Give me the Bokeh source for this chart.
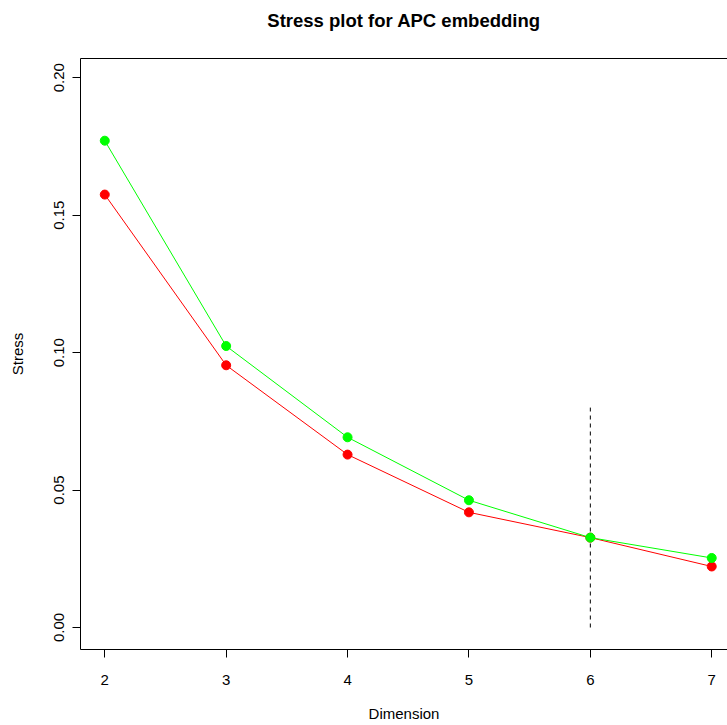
from bokeh.plotting import figure
from bokeh.models import LinearAxis, FixedTicker, Range1d
from bokeh.embed import file_html
from bokeh.resources import INLINE

# ---- data ----
dims = [2, 3, 4, 5, 6, 7]
stress_red = [0.1575, 0.0954, 0.0629, 0.0419, 0.0327, 0.0222]
stress_green = [0.1771, 0.1024, 0.0692, 0.0463, 0.0327, 0.0253]
cutoff_dim = 6
cutoff_top = 0.08
x_ticks = [2, 3, 4, 5, 6, 7]
y_ticks = [0.0, 0.05, 0.10, 0.15, 0.20]
y_tick_labels = ["0.00", "0.05", "0.10", "0.15", "0.20"]
title_text = "Stress plot for APC embedding"

FONT = "Liberation Sans"

p = figure(width=727, height=725, output_backend="svg", toolbar_location=None,
           x_range=Range1d(1.8, 7.13), y_range=Range1d(-0.008, 0.207),
           x_axis_location="below", y_axis_location="left",
           min_border_left=80, min_border_top=58, min_border_bottom=76,
           min_border_right=0)
p.outline_line_color = None
p.xgrid.visible = False
p.ygrid.visible = False
p.background_fill_color = "white"
p.border_fill_color = "white"

p.title.text = title_text
p.title.text_font = FONT
p.title.text_font_size = "18.5px"
p.title.text_font_style = "bold"
p.title.align = "center"
p.title.text_color = "black"
p.title.vertical_align = "top"
p.title.standoff = 14

xa = p.xaxis[0]
xa.ticker = FixedTicker(ticks=x_ticks)
xa.axis_label = "Dimension"
ya = p.yaxis[0]
ya.ticker = FixedTicker(ticks=y_ticks)
ya.major_label_overrides = {t: l for t, l in zip(y_ticks, y_tick_labels)}
ya.axis_label = "Stress"
ya.major_label_orientation = "vertical"

for ax in (xa, ya):
    ax.axis_line_color = "black"
    ax.axis_line_width = 1
    ax.major_tick_line_color = "black"
    ax.major_tick_in = 0
    ax.major_tick_out = 8
    ax.minor_tick_line_color = None
    ax.major_label_text_font = FONT
    ax.major_label_text_font_size = "15px"
    ax.major_label_text_color = "black"
    ax.axis_label_text_font = FONT
    ax.axis_label_text_font_size = "15px"
    ax.axis_label_text_font_style = "normal"
    ax.axis_label_text_color = "black"

xa.major_label_standoff = 17
xa.axis_label_standoff = 17
ya.major_label_standoff = 8
ya.axis_label_standoff = 26

# top edge of the box; an invisible axis label reserves space below the title
top = LinearAxis(ticker=FixedTicker(ticks=[]), axis_line_color="black",
                 major_tick_line_color=None, minor_tick_line_color=None,
                 major_tick_in=0, major_tick_out=0,
                 major_label_text_font_size="0px",
                 axis_label="x", axis_label_text_alpha=0,
                 axis_label_text_font=FONT, axis_label_text_font_size="14px",
                 axis_label_standoff=0)
p.add_layout(top, "above")

# dashed cutoff line
p.segment(x0=[cutoff_dim], y0=[0], x1=[cutoff_dim], y1=[cutoff_top],
          line_color="black", line_width=1, line_dash="4 4")

p.line(dims, stress_red, line_color="#ff0000", line_width=1)
p.scatter(dims, stress_red, size=9, fill_color="#ff0000", line_color="#ff0000")
p.line(dims, stress_green, line_color="#00ff00", line_width=1)
p.scatter(dims, stress_green, size=9, fill_color="#00ff00", line_color="#00ff00")

open("out.html", "w").write(file_html(p, INLINE))
